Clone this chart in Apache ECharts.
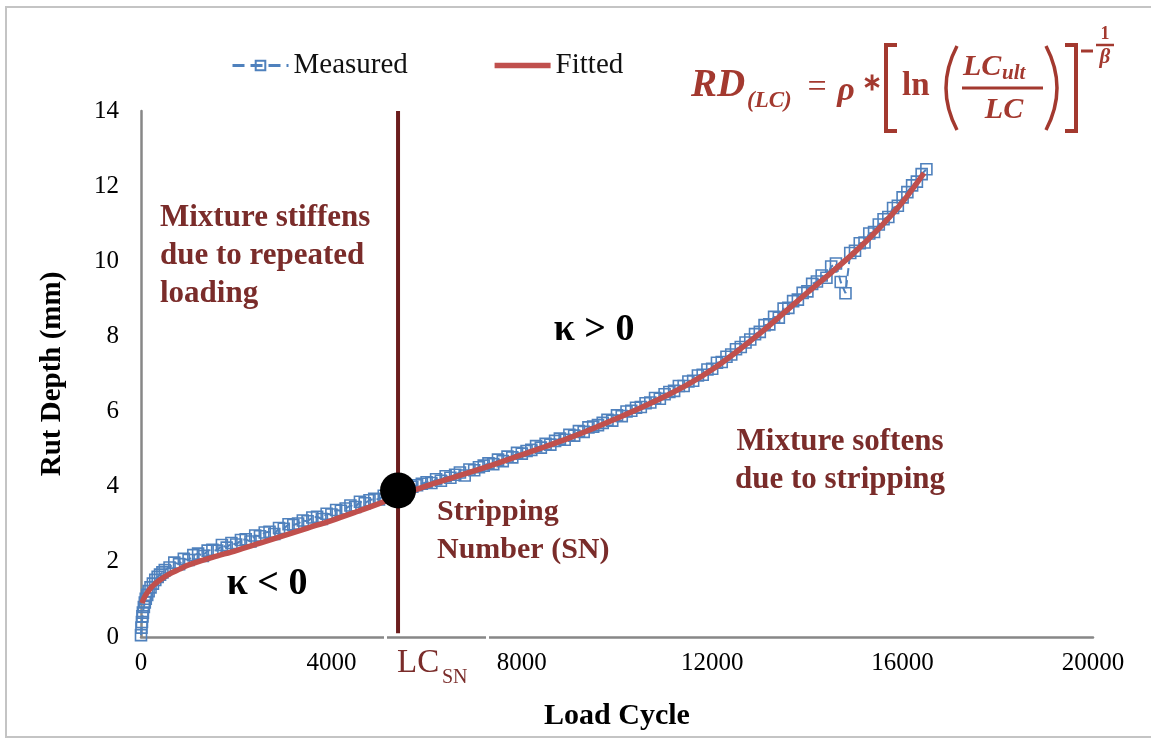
<!DOCTYPE html>
<html>
<head>
<meta charset="utf-8">
<script src="https://cdn.jsdelivr.net/npm/echarts@6/dist/echarts.min.js"></script>
<style>
  html, body { margin: 0; padding: 0; background: #fff; }
  #chart { width: 1151px; height: 739px; }
</style>
</head>
<body>
<div id="chart"></div>
<script>
// Rut depth measured in the wheel-tracking test, with the fitted curve
const measuredCycle = [
  0, 10, 20, 30, 40, 60, 80, 100, 130, 160, 200, 250, 300, 350, 400, 450, 500,
  600, 700, 800, 900, 1000, 1100, 1200, 1300, 1400, 1500,
  1600, 1700, 1800, 1900, 2000, 2100, 2200, 2300, 2400, 2500,
  2600, 2700, 2800, 2900, 3000, 3100, 3200, 3300, 3400, 3500,
  3600, 3700, 3800, 3900, 4000, 4100, 4200, 4300, 4400, 4500,
  4600, 4700, 4800, 4900, 5000, 5100, 5200, 5300, 5400, 5500,
  5600, 5700, 5800, 5900, 6000, 6100, 6200, 6300, 6400, 6500,
  6600, 6700, 6800, 6900, 7000, 7100, 7200, 7300, 7400, 7500,
  7600, 7700, 7800, 7900, 8000, 8100, 8200, 8300, 8400, 8500,
  8600, 8700, 8800, 8900, 9000, 9100, 9200, 9300, 9400, 9500,
  9600, 9700, 9800, 9900, 10000, 10100, 10200, 10300, 10400, 10500,
  10600, 10700, 10800, 10900, 11000, 11100, 11200, 11300, 11400, 11500,
  11600, 11700, 11800, 11900, 12000, 12100, 12200, 12300, 12400, 12500,
  12600, 12700, 12800, 12900, 13000, 13100, 13200, 13300, 13400, 13500,
  13600, 13700, 13800, 13900, 14000, 14100, 14200, 14300, 14400, 14500,
  14600, 14700, 14800, 14900, 15000, 15100, 15200, 15300, 15400, 15500,
  15600, 15700, 15800, 15900, 16000, 16100, 16200, 16300, 16400, 16500
];
const measuredDepth = [
  0.05, 0.25, 0.4, 0.55, 0.65, 0.8, 0.92, 1.02, 1.12, 1.22, 1.32, 1.42, 1.52, 1.6, 1.66, 1.72, 1.78,
  1.85, 1.98, 1.94, 2.08, 2.05, 2.18, 2.22, 2.16, 2.3, 2.32,
  2.3, 2.45, 2.38, 2.5, 2.46, 2.58, 2.6, 2.54, 2.7, 2.68,
  2.78, 2.8, 2.74, 2.9, 2.88, 3.0, 2.98, 3.02, 3.1, 3.08,
  3.18, 3.2, 3.14, 3.28, 3.26, 3.38, 3.36, 3.42, 3.5, 3.46,
  3.6, 3.56, 3.64, 3.68, 3.66, 3.76, 3.78, 3.84, 3.86, 3.94,
  3.98, 4.0, 4.04, 4.08, 4.12, 4.1, 4.2, 4.16, 4.28, 4.24,
  4.32, 4.38, 4.3, 4.46, 4.44, 4.52, 4.56, 4.62, 4.6, 4.72,
  4.68, 4.8, 4.78, 4.9, 4.88, 4.95, 4.98, 5.08, 5.04, 5.14,
  5.12, 5.22, 5.28, 5.25, 5.38, 5.36, 5.48, 5.46, 5.58, 5.6,
  5.64, 5.7, 5.78, 5.76, 5.9, 5.88, 6.0, 6.02, 6.1, 6.12,
  6.22, 6.24, 6.36, 6.34, 6.46, 6.52, 6.55, 6.68, 6.68, 6.8,
  6.82, 6.96, 6.98, 7.12, 7.14, 7.3, 7.32, 7.46, 7.52, 7.66,
  7.72, 7.84, 7.92, 8.06, 8.12, 8.3, 8.32, 8.52, 8.5, 8.74,
  8.76, 8.94, 8.98, 9.16, 9.2, 9.4, 9.46, 9.62, 9.56, 9.86,
  9.94, 9.45, 9.15, 10.22, 10.28, 10.48, 10.5, 10.74, 10.78, 10.98,
  11.12, 11.18, 11.42, 11.48, 11.7, 11.84, 12.02, 12.12, 12.32, 12.45
];
const fittedCycle = [
  20, 50, 100, 200, 300, 400, 600, 800, 1000,
  1500, 2000, 2500, 3000, 3500, 4000, 4500, 5000, 5400,
  6000, 6500, 7000, 7500, 8000, 8500, 9000, 9500, 10000,
  10500, 11000, 11500, 12000, 12500, 13000, 13500, 14000, 14500,
  15000, 15500, 16000, 16450
];
const fittedDepth = [
  0.9, 1.0, 1.12, 1.3, 1.42, 1.52, 1.68, 1.8, 1.92,
  2.12, 2.3, 2.5, 2.7, 2.9, 3.1, 3.32, 3.55, 3.75,
  4.02, 4.22, 4.42, 4.63, 4.85, 5.07, 5.3, 5.55, 5.82,
  6.1, 6.4, 6.73, 7.12, 7.58, 8.08, 8.62, 9.17, 9.7,
  10.25, 10.87, 11.58, 12.35
];
// Stripping number: load cycle and rut depth of the inflection point
const strippingCycle = 5400;
const strippingDepth = 3.9;
const xTicks = [0, 4000, 8000, 12000, 16000, 20000];
const yTicks = [0, 2, 4, 6, 8, 10, 12, 14];

const SERIF = "'Liberation Serif', 'Times New Roman', serif";
const MAROON = '#7A2C2A';
const BRICK = '#A3392F';

const zip = (xs, ys) => xs.map((x, i) => [x, ys[i]]);

const chart = echarts.init(document.getElementById('chart'), null, { renderer: 'canvas' });

function txt(text, x, y, size, opts) {
  opts = opts || {};
  return {
    type: 'text', x: x, y: y, silent: true, z: 100,
    style: {
      text: text, fontFamily: SERIF, fontSize: size,
      fontWeight: opts.weight || 'bold', fontStyle: opts.italic ? 'italic' : 'normal',
      fill: opts.color || MAROON,
      align: opts.align || 'left', verticalAlign: 'middle'
    }
  };
}
function seg(x1, y1, x2, y2, w, color) {
  return { type: 'line', silent: true, z: 100,
    shape: { x1: x1, y1: y1, x2: x2, y2: y2 },
    style: { stroke: color || BRICK, lineWidth: w } };
}
function paren(xEnd, xMid, y1, y2) {
  return { type: 'bezierCurve', silent: true, z: 100,
    shape: { x1: xEnd, y1: y1, x2: xEnd, y2: y2, cpx1: xMid, cpy1: (y1 + y2) / 2 },
    style: { stroke: BRICK, lineWidth: 3.5, fill: null } };
}

const option = {
  animation: false,
  backgroundColor: '#ffffff',
  grid: { left: 141, right: 58, top: 111, bottom: 102 },
  legend: {
    data: [
      { name: 'Measured', lineStyle: { width: 3 } },
      { name: 'Fitted', itemStyle: { opacity: 0 }, lineStyle: { width: 5.5 } }
    ],
    left: 226, top: 46,
    itemWidth: 56, itemHeight: 12, itemGap: 84,
    textStyle: { fontFamily: SERIF, fontSize: 29, color: '#111' }
  },
  xAxis: {
    type: 'value', min: xTicks[0], max: xTicks[xTicks.length - 1],
    interval: xTicks[1] - xTicks[0],
    name: 'Load Cycle', nameLocation: 'middle', nameGap: 64,
    nameTextStyle: { fontFamily: SERIF, fontSize: 30, fontWeight: 'bold', color: '#000' },
    axisLine: { show: true, lineStyle: { color: '#878787', width: 2.5 } },
    axisTick: { show: false },
    splitLine: { show: false },
    axisLabel: { fontFamily: SERIF, fontSize: 25, color: '#000', margin: 14,
      formatter: v => String(v) }
  },
  yAxis: {
    type: 'value', min: yTicks[0], max: yTicks[yTicks.length - 1],
    interval: yTicks[1] - yTicks[0],
    name: 'Rut Depth (mm)', nameLocation: 'middle', nameGap: 74,
    nameTextStyle: { fontFamily: SERIF, fontSize: 29, fontWeight: 'bold', color: '#000' },
    axisLine: { show: true, lineStyle: { color: '#878787', width: 2.5 } },
    axisTick: { show: false },
    splitLine: { show: false },
    axisLabel: { fontFamily: SERIF, fontSize: 25, color: '#000', margin: 22 }
  },
  series: [
    {
      name: 'Measured', type: 'line',
      data: zip(measuredCycle, measuredDepth),
      symbol: 'rect', symbolSize: 11, showSymbol: true,
      itemStyle: { color: 'rgba(255,255,255,0)', borderColor: '#4F81BD', borderWidth: 1.6 },
      lineStyle: { color: '#4F81BD', width: 2, type: 'dashed' },
      z: 2
    },
    {
      name: 'Fitted', type: 'line',
      data: zip(fittedCycle, fittedDepth),
      symbol: 'none', smooth: 0.35,
      itemStyle: { color: '#C0504D' },
      lineStyle: { color: '#C0504D', width: 5.5 },
      z: 3
    },
    {
      name: 'SN line', type: 'line',
      data: [[strippingCycle, 0.1], [strippingCycle, yTicks[yTicks.length - 1]]],
      symbol: 'none',
      lineStyle: { color: '#6B1D1D', width: 4 },
      z: 4
    },
    {
      name: 'SN', type: 'scatter',
      data: [[strippingCycle, strippingDepth]],
      symbol: 'circle', symbolSize: 36,
      itemStyle: { color: '#000', opacity: 1 },
      z: 5
    }
  ],
  graphic: [
    { type: 'rect', silent: true, z: 0,
      shape: { x: 6, y: 7, width: 1170, height: 730 },
      style: { fill: null, stroke: '#c4c4c4', lineWidth: 2 } },
    // small breaks in the horizontal axis on either side of the LC_SN label
    { type: 'rect', silent: true, z: 50, shape: { x: 384, y: 633, width: 3, height: 8 }, style: { fill: '#fff' } },
    { type: 'rect', silent: true, z: 50, shape: { x: 486, y: 633, width: 3, height: 8 }, style: { fill: '#fff' } },

    txt('Mixture stiffens', 160, 218, 31),
    txt('due to repeated', 160, 256, 31),
    txt('loading', 160, 294, 31),
    txt('\u03BA > 0', 594, 330, 38, { color: '#000', align: 'center' }),
    txt('\u03BA < 0', 267, 584, 38, { color: '#000', align: 'center' }),
    txt('Stripping', 437, 512, 30),
    txt('Number (SN)', 437, 550, 30),
    txt('Mixture softens', 840, 442, 31, { align: 'center' }),
    txt('due to stripping', 840, 480, 31, { align: 'center' }),
    txt('LC', 397, 663, 33, { weight: 'normal' }),
    txt('SN', 442, 678, 20, { weight: 'normal' }),

    // RD(LC) = rho * [ ln( LCult / LC ) ]^(-1/beta)
    txt('RD', 691, 86, 39, { italic: true, color: BRICK }),
    txt('(LC)', 747, 101, 23, { italic: true, color: BRICK }),
    txt('=', 817, 88, 34, { color: BRICK, align: 'center', weight: 'normal' }),
    txt('\u03C1', 846, 91, 34, { italic: true, color: BRICK, align: 'center' }),
    txt('\u2217', 872, 84, 24, { color: BRICK, align: 'center' }),
    { type: 'polyline', silent: true, z: 100,
      shape: { points: [[897, 45], [886, 45], [886, 131], [897, 131]] },
      style: { stroke: BRICK, lineWidth: 4, fill: null } },
    txt('ln', 902, 86, 33, { color: BRICK }),
    paren(957, 935, 46, 130),
    txt('LC', 963, 67, 30, { italic: true, color: BRICK }),
    txt('ult', 1002, 74, 21, { italic: true, color: BRICK }),
    seg(962, 88, 1043, 88, 3),
    txt('LC', 1004, 110, 30, { italic: true, color: BRICK, align: 'center' }),
    paren(1046, 1068, 46, 130),
    { type: 'polyline', silent: true, z: 100,
      shape: { points: [[1065, 45], [1076, 45], [1076, 131], [1065, 131]] },
      style: { stroke: BRICK, lineWidth: 4, fill: null } },
    seg(1081, 51, 1093, 51, 3),
    txt('1', 1105, 34, 18, { color: BRICK, align: 'center' }),
    seg(1096, 45, 1114, 45, 2.5),
    txt('\u03B2', 1105, 58, 21, { italic: true, color: BRICK, align: 'center' })
  ]
};

chart.setOption(option);
</script>
</body>
</html>
